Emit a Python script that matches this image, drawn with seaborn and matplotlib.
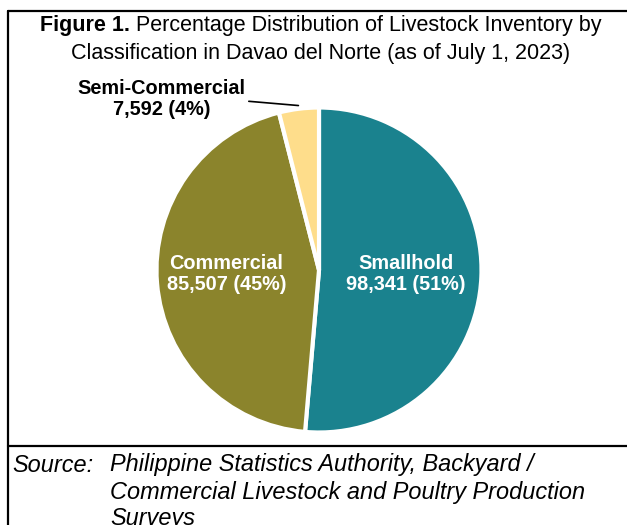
import matplotlib
matplotlib.use("Agg")
import matplotlib.pyplot as plt
import seaborn as sns
from matplotlib.lines import Line2D
import numpy as np

# Data
categories = ["Smallhold", "Commercial", "Semi-Commercial"]
counts = [98341, 85507, 7592]
percents = [51, 45, 4]
colors = ["#1a828e", "#8b842c", "#fedd8b"]

sns.set_theme(style="white")
plt.rcParams['font.family'] = ['Liberation Sans', 'DejaVu Sans']
plt.rcParams['text.color'] = 'black'

W, H = 627, 525
fig = plt.figure(figsize=(W / 100, H / 100), dpi=100)
fig.patch.set_facecolor("white")

# pie axes: center (319, 270) px, radius 162.5 px
cx, cy, r = 319, 270, 162.5
ax = fig.add_axes([(cx - r) / W, (H - cy - r) / H, 2 * r / W, 2 * r / H])
wedges, _ = ax.pie(counts, colors=colors, startangle=90, counterclock=False,
                   wedgeprops=dict(edgecolor="white", linewidth=3))
ax.set_xlim(-1, 1)
ax.set_ylim(-1, 1)
ax.set_aspect("equal")

# labels inside the two big slices
for w, cat, n, p, rr in zip(wedges[:2], categories[:2], counts[:2], percents[:2],
                            [0.535, 0.572]):
    mid = np.deg2rad((w.theta1 + w.theta2) / 2)
    ax.text(rr * np.cos(mid), -0.025,
            f"{cat}\n{n:,} ({p}%)", color="white", fontsize=14.3,
            fontweight="bold", ha="center", va="center", linespacing=1.1)

# semi-commercial label outside with leader line
w = wedges[2]
mid = np.deg2rad((w.theta1 + w.theta2) / 2)
ax.annotate(f"{categories[2]}\n{counts[2]:,} ({percents[2]}%)",
            xy=(1.02 * np.cos(mid), 1.02 * np.sin(mid)), xytext=(-0.969, 1.052),
            ha="center", va="center", fontsize=14.3, fontweight="bold",
            color="black", linespacing=1.1, annotation_clip=False,
            arrowprops=dict(arrowstyle="-", color="black", lw=1.2,
                            shrinkA=0, shrinkB=0, relpos=(1.0, 0.45)))

# title, bold "Figure 1." followed by normal text
t1 = fig.text(0, 1 - 26 / H, "Figure 1.", fontsize=15.5, fontweight="bold",
              ha="left", va="center")
t2 = fig.text(0, 1 - 26 / H, " Percentage Distribution of Livestock Inventory by",
              fontsize=15.5, ha="left", va="center")
fig.canvas.draw()
rend = fig.canvas.get_renderer()
w1 = t1.get_window_extent(rend).width
w2 = t2.get_window_extent(rend).width
x0 = 321 - (w1 + w2) / 2
t1.set_x(x0 / W)
t2.set_x((x0 + w1) / W)
fig.text(321 / W, 1 - 53 / H, "Classification in Davao del Norte (as of July 1, 2023)",
         fontsize=15.5, ha="center", va="center")

# source note
src_kw = dict(fontsize=16.9, style="italic", ha="left", va="center")
fig.text(12 / W, 1 - 465 / H, "Source:", **src_kw)
fig.text(110 / W, 1 - 465 / H, "Philippine Statistics Authority, Backyard /", **src_kw)
fig.text(110 / W, 1 - 493 / H, "Commercial Livestock and Poultry Production", **src_kw)
fig.text(110 / W, 1 - 519 / H, "Surveys", **src_kw)

# frame lines
def hline(y, x1, x2):
    fig.add_artist(Line2D([x1 / W, x2 / W], [1 - y / H, 1 - y / H],
                          transform=fig.transFigure, color="black", lw=1.6))

def vline(x, y1, y2):
    fig.add_artist(Line2D([x / W, x / W], [1 - y1 / H, 1 - y2 / H],
                          transform=fig.transFigure, color="black", lw=1.6))

hline(11, 8, W + 5)
hline(446, 8, W + 5)
vline(8, 11, H + 5)

fig.savefig("out.png", dpi=100, facecolor="white")
